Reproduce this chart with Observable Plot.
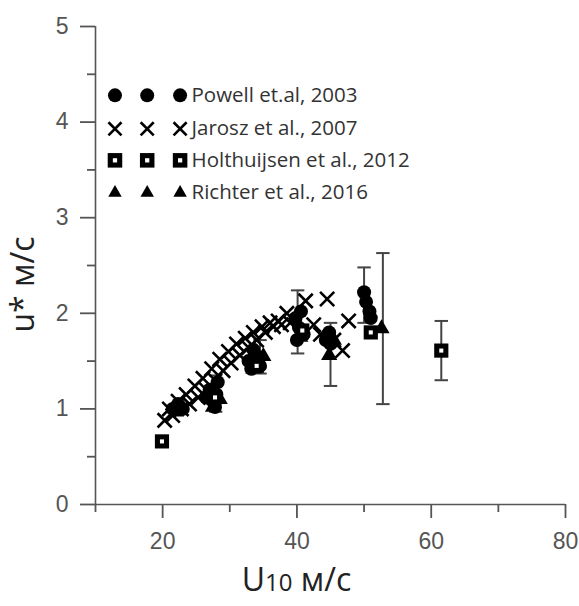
<!DOCTYPE html>
<html>
<head>
<meta charset="utf-8">
<script src="https://cdn.jsdelivr.net/npm/d3@7"></script>
<script src="https://cdn.jsdelivr.net/npm/@observablehq/plot@0.6"></script>
<style>
  html, body { margin: 0; padding: 0; background: #fff; }
  #chart { width: 579px; height: 606px; }
</style>
</head>
<body>
<div id="chart"></div>
<script>
// ---- data ----
const seriesNames = ["Powell et.al, 2003", "Jarosz et al., 2007", "Holthuijsen et al., 2012", "Richter et al., 2016"];

const powell = [
  [21.5,1.00],[22.3,1.05],[23.0,1.00],[26.5,1.12],[27.0,1.20],[27.5,1.08],[28.0,1.15],[28.2,1.28],[27.8,1.02],
  [32.8,1.50],[33.5,1.62],[34.0,1.55],[34.5,1.45],[33.2,1.42],
  [39.8,1.95],[40.3,1.85],[40.6,2.02],[41.0,1.78],[40.0,1.72],
  [44.3,1.72],[44.8,1.80],[45.0,1.68],
  [50.0,2.22],[50.3,2.12],[50.8,2.02],[51.0,1.95]
];
const jarosz = [
  [20.3,0.88],[21.5,0.93],[22.8,1.00],[24.0,1.05],[25.3,1.12],[26.5,1.20],[27.8,1.30],[29.0,1.40],
  [30.2,1.48],[31.5,1.56],[32.8,1.64],[34.0,1.72],[35.3,1.80],[36.5,1.86],[37.7,1.88],[39.0,1.90],
  [21.0,1.00],[22.3,1.08],[23.5,1.15],[24.8,1.24],[26.0,1.32],[27.3,1.42],[28.5,1.52],[29.8,1.60],
  [31.0,1.68],[32.3,1.74],[33.5,1.80],[34.8,1.86],[36.0,1.90],[37.2,1.92],
  [41.3,2.13],[44.5,2.15],[47.7,1.92],[46.8,1.61],[42.5,1.88],[43.5,1.78],[45.5,1.72],[38.5,2.00]
];
const holthuijsen = [
  [19.9,0.66],[27.8,1.12],[34.0,1.45],[40.8,1.82],[51.0,1.80],[61.5,1.61]
];
const richter = [
  [22.0,0.97],[27.5,1.02],[28.5,1.10],[33.5,1.42],[34.3,1.48],[35.0,1.55],
  [40.5,1.75],[44.8,1.56],[45.5,1.72],[52.6,1.84]
];
// error bars: [x, low, high]
const errorBars = [
  [27.9,0.97,1.35],[34.5,1.37,1.72],[40.1,1.58,2.24],[45.0,1.24,1.90],
  [50.0,1.90,2.48],[52.8,1.05,2.63],[61.5,1.30,1.92]
];

const xDomain = [10, 80];
const yDomain = [0, 5];
const xMajor = [20, 40, 60, 80];
const xMinor = [10, 30, 50, 70];
const yMajor = [0, 1, 2, 3, 4, 5];
const yMinor = [0.5, 1.5, 2.5, 3.5, 4.5];

// legend layout (in data units inside the frame)
const legendRowsY = [4.28, 3.93, 3.60, 3.26];
const legendSymX = [12.9, 17.7, 22.6];
const legendTextX = 24.3;

// ---- build ----
const toObj = a => a.map(([x, y]) => ({x, y}));
const P = toObj(powell), J = toObj(jarosz), H = toObj(holthuijsen), R = toObj(richter);
const E = errorBars.map(([x, lo, hi]) => ({x, lo, hi}));

const legendSym = (i) => legendSymX.map(x => ({x, y: legendRowsY[i]}));
const legendText = seriesNames.map((t, i) => ({x: legendTextX, y: legendRowsY[i], t}));

const axisColor = "#555";
const tickFont = "'Liberation Sans Narrow', 'Liberation Sans', Arial, sans-serif";
const capHalf = 1.0;

const plot = Plot.plot({
  width: 579,
  height: 606,
  marginLeft: 95,
  marginRight: 14,
  marginTop: 26,
  marginBottom: 102,
  style: {fontFamily: tickFont, background: "#fff"},
  x: {domain: xDomain},
  y: {domain: yDomain},
  marks: [
    Plot.ruleY([yDomain[0]], {stroke: axisColor, strokeWidth: 1.6}),
    Plot.ruleX([xDomain[0]], {stroke: axisColor, strokeWidth: 1.6}),
    Plot.axisX({ticks: xMajor, tickSize: 14, tickPadding: 14, fontSize: 23, color: axisColor, strokeWidth: 1.8, label: null, fontFamily: tickFont}),
    Plot.axisY({ticks: yMajor, tickSize: 15, tickPadding: 12, tickFormat: d3.format("d"), fontSize: 23, color: axisColor, strokeWidth: 1.8, label: null, fontFamily: tickFont}),
    // minor ticks
    Plot.ruleX(xMinor, {x: d => d, y1: yDomain[0], y2: yDomain[0], insetBottom: -8, stroke: axisColor, strokeWidth: 1.8}),
    Plot.ruleY(yMinor, {y: d => d, x1: xDomain[0], x2: xDomain[0], insetLeft: -8, stroke: axisColor, strokeWidth: 1.8}),

    // error bars
    Plot.ruleX(E, {x: "x", y1: "lo", y2: "hi", stroke: "#444", strokeWidth: 2}),
    Plot.link(E, {x1: d => d.x - capHalf, x2: d => d.x + capHalf, y1: "lo", y2: "lo", stroke: "#444", strokeWidth: 2}),
    Plot.link(E, {x1: d => d.x - capHalf, x2: d => d.x + capHalf, y1: "hi", y2: "hi", stroke: "#444", strokeWidth: 2}),

    // data
    Plot.dot(J, {x: "x", y: "y", symbol: "times", r: 6.5, stroke: "#000", strokeWidth: 2.6}),
    Plot.dot(P, {x: "x", y: "y", symbol: "circle", r: 7, fill: "#000"}),
    Plot.dot(R, {x: "x", y: "y", symbol: "triangle", r: 6, fill: "#000"}),
    Plot.dot(H, {x: "x", y: "y", symbol: "square", r: 8, fill: "#000"}),
    Plot.dot(H, {x: "x", y: "y", symbol: "square", r: 2.3, fill: "#fff"}),

    // legend
    Plot.dot(legendSym(0), {x: "x", y: "y", symbol: "circle", r: 7, fill: "#000"}),
    Plot.dot(legendSym(1), {x: "x", y: "y", symbol: "times", r: 6, stroke: "#000", strokeWidth: 2.6}),
    Plot.dot(legendSym(2), {x: "x", y: "y", symbol: "square", r: 8.2, fill: "#000"}),
    Plot.dot(legendSym(2), {x: "x", y: "y", symbol: "square", r: 2.4, fill: "#fff"}),
    Plot.dot(legendSym(3), {x: "x", y: "y", symbol: "triangle", r: 5, fill: "#000"}),
    Plot.text(legendText, {x: "x", y: "y", text: "t", textAnchor: "start", fontSize: 20.5, fill: "#333", fontFamily: "'Open Sans', sans-serif"}),

    // axis titles
    Plot.text(["u* м/с"], {frameAnchor: "left", textAnchor: "middle", dx: -72, dy: 19, rotate: -90, fontSize: 32, fill: "#222", fontFamily: "'Open Sans', sans-serif", className: "ylabel"}),
    Plot.text(["U10 м/с"], {frameAnchor: "bottom", textAnchor: "middle", dx: -34, dy: 86, fontSize: 32, fill: "#222", fontFamily: "'Open Sans', sans-serif", className: "xlabel"})
  ]
});

// make "10" smaller in the x title
const xt = d3.select(plot).select(".xlabel text");
if (!xt.empty()) {
  xt.text(null);
  xt.append("tspan").text("U");
  xt.append("tspan").attr("font-size", 24).text("10");
  xt.append("tspan").text(" м/с");
}

document.getElementById("chart").appendChild(plot);
</script>
</body>
</html>
